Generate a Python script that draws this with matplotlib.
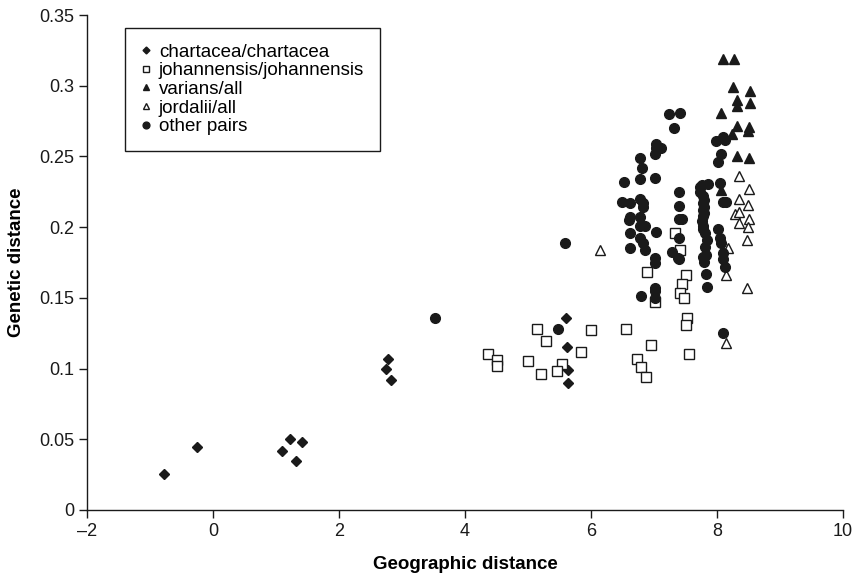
import matplotlib
matplotlib.use("Agg")
import matplotlib.pyplot as plt

plt.rcParams['font.family'] = ['Liberation Sans', 'DejaVu Sans']

# chartacea/chartacea
chart_x = [-0.78, -0.25, 1.09, 1.22, 1.42, 1.31, 2.77, 2.75, 2.82, 5.61, 5.62, 5.64, 5.64]
chart_y = [0.0255, 0.0445, 0.042, 0.050, 0.048, 0.0344, 0.107, 0.100, 0.092, 0.136, 0.1155, 0.099, 0.090]

# johannensis/johannensis
joh_x = [4.36, 4.51, 4.51, 5.14, 5.29, 6.00, 6.55, 5.84, 5.00, 5.21, 5.54, 5.46,
         6.95, 6.73, 6.80, 6.87, 6.89, 7.02, 7.33, 7.41, 7.51, 7.44, 7.41, 7.48, 7.52, 7.50, 7.56]
joh_y = [0.110, 0.106, 0.102, 0.128, 0.1195, 0.127, 0.128, 0.1115, 0.1055, 0.096, 0.103, 0.098,
         0.1167, 0.1065, 0.101, 0.094, 0.168, 0.147, 0.1956, 0.184, 0.166, 0.160, 0.1536, 0.1497, 0.1355, 0.131, 0.110]

# varians/all
var_x = [8.10, 8.27, 8.26, 8.53, 8.32, 8.32, 8.52, 8.06, 8.31, 8.51, 8.24, 8.49, 8.31, 8.50, 8.06]
var_y = [0.319, 0.319, 0.299, 0.296, 0.290, 0.286, 0.2875, 0.281, 0.2715, 0.2705, 0.266, 0.268, 0.250, 0.249, 0.226]

# jordalii/all
jor_x = [6.14, 8.35, 8.51, 8.35, 8.49, 8.28, 8.35, 8.51, 8.35, 8.49, 8.47, 8.17, 8.14, 8.48, 8.14]
jor_y = [0.184, 0.236, 0.2267, 0.220, 0.216, 0.209, 0.211, 0.206, 0.203, 0.200, 0.191, 0.185, 0.166, 0.157, 0.118]

# other pairs
oth_x = [3.52, 5.48, 5.58,
         6.53, 6.49, 6.62, 6.62, 6.60, 6.62, 6.62,
         6.78, 6.81, 6.78, 6.78, 6.83, 6.83, 6.78, 6.78, 6.86, 6.78, 6.83, 6.86, 6.79,
         7.03, 7.03, 7.11, 7.02, 7.02, 7.03, 7.01, 7.01, 7.01, 7.01, 7.01,
         7.24, 7.41, 7.31, 7.40, 7.40, 7.40, 7.45, 7.40, 7.28, 7.40, 7.38,
         7.76, 7.86, 7.73, 7.78, 7.80, 7.78, 7.80, 7.78, 7.80, 7.78, 7.76, 7.78, 7.78,
         7.81, 7.84, 7.81, 7.82, 7.78, 7.79, 7.82, 7.84, 7.73,
         7.99, 8.10, 8.13, 8.07, 8.02, 8.05, 8.15, 8.09, 8.02, 8.06, 8.05, 8.09, 8.09, 8.12, 8.10]
oth_y = [0.1355, 0.128, 0.1886,
         0.2317, 0.218, 0.2168, 0.2075, 0.205, 0.196, 0.185,
         0.249, 0.242, 0.234, 0.220, 0.2168, 0.2145, 0.2075, 0.2008, 0.2008, 0.192, 0.1886, 0.184, 0.151,
         0.259, 0.256, 0.256, 0.252, 0.235, 0.1966, 0.178, 0.1745, 0.157, 0.1545, 0.150,
         0.280, 0.281, 0.270, 0.225, 0.215, 0.206, 0.2057, 0.192, 0.1826, 0.1775, 0.178,
         0.230, 0.2305, 0.225, 0.222, 0.219, 0.217, 0.214, 0.212, 0.210, 0.208, 0.204, 0.201, 0.199,
         0.1956, 0.191, 0.186, 0.180, 0.179, 0.1755, 0.1667, 0.158, 0.2286,
         0.261, 0.264, 0.2617, 0.252, 0.246, 0.231, 0.218, 0.218, 0.1985, 0.189, 0.192, 0.182, 0.1775, 0.172, 0.125]

xticks = [-2, 0, 2, 4, 6, 8, 10]
xtick_labels = ['\u20132', '0', '2', '4', '6', '8', '10']
yticks = [0, 0.05, 0.1, 0.15, 0.2, 0.25, 0.3, 0.35]
ytick_labels = ['0', '0.05', '0.1', '0.15', '0.2', '0.25', '0.3', '0.35']

fig = plt.figure(figsize=(8.55, 5.78), dpi=100)
ax = fig.add_axes([87/855, 1 - 510/578, (843-87)/855, (510-15)/578])

ax.plot(chart_x, chart_y, linestyle='none', marker='D', markersize=5, color='#1a1a1a',
        label='chartacea/chartacea')
ax.plot(joh_x, joh_y, linestyle='none', marker='s', markersize=6.5, markerfacecolor='white',
        markeredgecolor='#1a1a1a', markeredgewidth=1.0, label='johannensis/johannensis')
ax.plot(var_x, var_y, linestyle='none', marker='^', markersize=7, color='#1a1a1a',
        label='varians/all')
ax.plot(jor_x, jor_y, linestyle='none', marker='^', markersize=7, markerfacecolor='white',
        markeredgecolor='#1a1a1a', markeredgewidth=1.0, label='jordalii/all')
ax.plot(oth_x, oth_y, linestyle='none', marker='o', markersize=7, color='#1a1a1a',
        label='other pairs')

ax.set_xlim(-2, 10)
ax.set_ylim(0, 0.35)
ax.set_xticks(xticks)
ax.set_xticklabels(xtick_labels)
ax.set_yticks(yticks)
ax.set_yticklabels(ytick_labels)
ax.tick_params(direction='out', length=6, width=1, labelsize=13, colors='#1a1a1a', pad=3)
for s in ['top', 'right']:
    ax.spines[s].set_visible(False)
for s in ['left', 'bottom']:
    ax.spines[s].set_linewidth(1)
    ax.spines[s].set_color('#1a1a1a')

ax.set_xlabel('Geographic distance', fontsize=13.5, fontweight='bold', labelpad=12)
ax.set_ylabel('Genetic distance', fontsize=13.5, fontweight='bold', labelpad=10)

leg = ax.legend(loc='upper left', bbox_to_anchor=(125/855, 1 - 27.7/578),
                bbox_transform=fig.transFigure, borderaxespad=0,
                fontsize=13.5, frameon=True, fancybox=False, framealpha=1,
                edgecolor='#1a1a1a', handlelength=0.5, handletextpad=0.45,
                labelspacing=0.08, borderpad=0.85, markerscale=0.7)
leg.get_frame().set_linewidth(1)

fig.savefig('out.png', dpi=100)
